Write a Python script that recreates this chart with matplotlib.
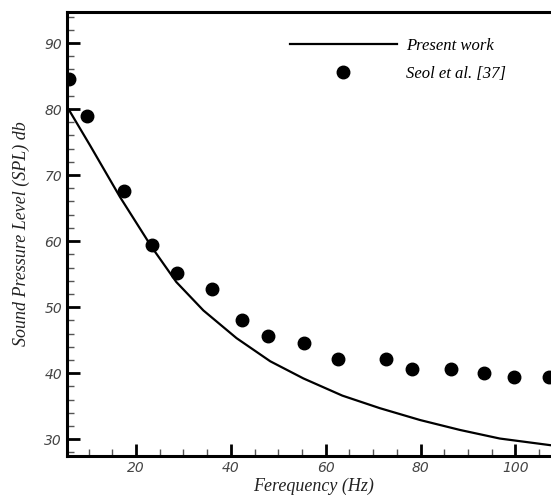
import matplotlib.pyplot as plt
import numpy as np
from matplotlib.ticker import MultipleLocator

# Datos
freq_exp = [5.9, 9.7, 17.5, 23.3, 28.6, 36.0, 42.4, 47.8, 55.5, 62.5, 72.7, 78.2, 86.5, 93.3, 99.8, 107.0]
spl_exp = [84.5, 79.0, 67.6, 59.4, 55.2, 52.7, 48.0, 45.7, 44.5, 42.2, 42.2, 40.6, 40.6, 40.0, 39.4, 39.4]

freq_line = [5.5, 10.3, 16.6, 23.3, 28.5, 34.2, 41.2, 48.3, 55.3, 63.5, 71.4, 79.9, 88.3, 96.7, 107.3, 110.0]
spl_line = [80.3, 74.5, 66.7, 59.1, 53.8, 49.5, 45.3, 41.8, 39.2, 36.6, 34.7, 32.9, 31.4, 30.1, 29.1, 28.9]

fig = plt.figure(figsize=(5.51, 5.0), dpi=100)
ax = fig.add_axes([67/551, 44.3/500, 493/551, 443.7/500])

ax.plot(freq_line, spl_line, 'k-', linewidth=1.6, label='Present work')
ax.plot(freq_exp, spl_exp, 'ko', markersize=9, linestyle='none', label='Seol et al. [37]')

ax.set_xlim(5.44, 109.4)
ax.set_ylim(27.5, 94.7)

ax.xaxis.set_major_locator(MultipleLocator(20))
ax.xaxis.set_minor_locator(MultipleLocator(5))
ax.yaxis.set_major_locator(MultipleLocator(10))
ax.yaxis.set_minor_locator(MultipleLocator(2))
ax.tick_params(which='major', direction='in', length=9, width=2, colors='k',
               labelcolor='#444444', labelsize=10)
ax.tick_params(which='minor', direction='in', length=5, width=1, colors='#555555')
for lab in ax.get_xticklabels() + ax.get_yticklabels():
    lab.set_fontstyle('italic')
    lab.set_fontfamily('DejaVu Sans')
    lab.set_fontweight('light')

for s in ['left', 'bottom', 'top']:
    ax.spines[s].set_linewidth(2.2)
ax.spines['right'].set_visible(False)

ax.set_xlabel('Ferequency (Hz)', fontsize=13, fontstyle='italic',
              family='Liberation Serif', color='#222222', labelpad=2)
ax.set_ylabel('Sound Pressure Level (SPL) db', fontsize=13, fontstyle='italic',
              family='Liberation Serif', color='#222222', labelpad=10)

leg = ax.legend(loc='upper left', bbox_to_anchor=(0.422, 0.975), frameon=False,
                prop={'family': 'Liberation Serif', 'style': 'italic', 'size': 12},
                handlelength=6.4, handletextpad=0.55, labelspacing=0.72)

fig.savefig('out.png', dpi=100)
